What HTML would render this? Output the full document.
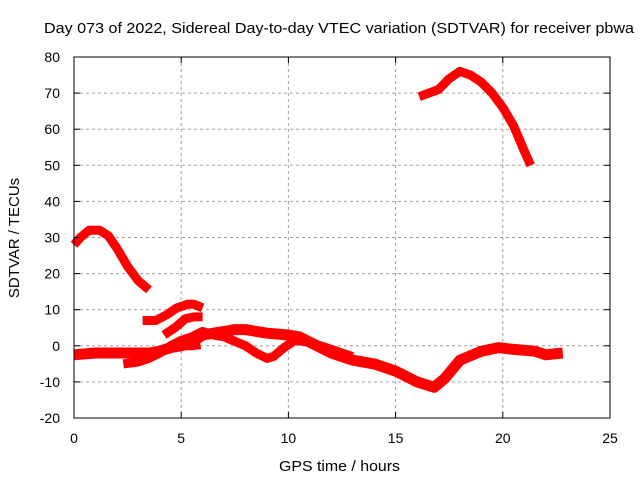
<!DOCTYPE html>
<html><head><meta charset="utf-8"><style>
body{margin:0;background:#fff;}
svg{display:block;font-family:"Liberation Sans",sans-serif;}
</style></head><body>
<svg id="chart" width="640" height="480">
<rect width="640" height="480" fill="#fff"/>
<text x="44" y="33" font-size="15" textLength="590" lengthAdjust="spacingAndGlyphs">Day 073 of 2022, Sidereal Day-to-day VTEC variation (SDTVAR) for receiver pbwa</text>
<text x="279" y="471" font-size="15" textLength="121" lengthAdjust="spacingAndGlyphs">GPS time / hours</text>
<text transform="translate(19,238) rotate(-90)" font-size="15" text-anchor="middle">SDTVAR / TECUs</text>
<g id="grid"></g><g id="marks"></g>
<rect x="74" y="57" width="536" height="361" fill="none" stroke="#000" stroke-width="1"/>
<g id="ticks"></g>
</svg>
<script>
const xTicks=[0,5,10,15,20,25];
const yTicks=[-20,-10,0,10,20,30,40,50,60,70,80];
const s1x=[0,0.3,0.7,1.2,1.6,2,2.5,3,3.5];
const s1y=[28,30,32,32,30.5,27,22,18,15.5];
const s2x=[16.1,17,17.5,18,18.5,19,19.5,20,20.5,21,21.3];
const s2y=[69,71,74,76,75,73,70,66,61,54,50];
const s3x=[3.2,3.8,4.3,4.8,5.3,5.6,6];
const s3y=[7,7,8.5,10.5,11.5,11.5,10.5];
const s4x=[4.2,4.7,5.2,5.6,6];
const s4y=[3,5,7.5,8,8];
const s5x=[0,1,2,3,3.5,4,4.5,5,5.5,6,6.5,7,7.5,8,9,10,10.5,11,12,13,14,15,16,16.8,17.3,18,19,19.8,20.5,21.5,22,22.8];
const s5y=[-2.5,-2,-2,-2,-2,-1.5,-0.5,0,1,3,3.5,4,4.5,4.5,3.5,3,2.5,1,-2,-4,-5,-7,-10,-11.5,-9,-4,-1.5,-0.5,-1,-1.5,-2.5,-2];
const s6x=[2.3,3,3.5,4,4.5,5,5.5,6,6.5,7,8,8.5,9,9.3,9.8,10.3,11,12,13];
const s6y=[-5,-4.5,-3.5,-2,0,1.5,2.5,4,3,2.5,0,-2,-3.5,-3,-0.5,1.5,1,-1,-3];
const s7x=[4.5,5,5.5,5.9];
const s7y=[0,0,0,0.3];
const NS="http://www.w3.org/2000/svg";
const X=v=>74+v*(536/25), Y=v=>418-(v+20)*(361/100);
const grid=document.getElementById('grid'),ticks=document.getElementById('ticks'),marks=document.getElementById('marks');
function mk(tag,at,parent){const e=document.createElementNS(NS,tag);for(const k in at)e.setAttribute(k,at[k]);parent.appendChild(e);return e;}
xTicks.forEach(t=>{const x=X(t);
 if(t>0&&t<25){const g=mk('line',{x1:x,x2:x,y1:57,y2:418,stroke:'#a0a0a0','stroke-dasharray':'3,3'},grid);
 
 }
 mk('line',{x1:x,x2:x,y1:418,y2:412,stroke:'#000'},ticks);
 mk('line',{x1:x,x2:x,y1:57,y2:63,stroke:'#000'},ticks);
 const l=mk('text',{x:x,y:443,'font-size':14,'text-anchor':'middle'},ticks);l.textContent=t;
 
 });
yTicks.forEach(t=>{const y=Y(t);
 if(t>-20&&t<80){const g=mk('line',{x1:74,x2:610,y1:y,y2:y,stroke:'#a0a0a0','stroke-dasharray':'3,3'},grid);
 
 }
 mk('line',{x1:74,x2:80,y1:y,y2:y,stroke:'#000'},ticks);
 mk('line',{x1:610,x2:604,y1:y,y2:y,stroke:'#000'},ticks);
 const l=mk('text',{x:60,y:y+5,'font-size':14,'text-anchor':'end'},ticks);l.textContent=t;
 
 });
[[s1x,s1y],[s2x,s2y],[s3x,s3y],[s4x,s4y],[s5x,s5y],[s6x,s6y],[s7x,s7y]].forEach((s,i)=>{
 const pts=s[0].map((v,j)=>X(v).toFixed(1)+','+Y(s[1][j]).toFixed(1)).join(' ');
 const p=mk('polyline',{points:pts,fill:'none',stroke:'#ff0000','stroke-width':i==4?11:9,'stroke-linejoin':'round','stroke-linecap':'butt'},marks);
 
 });
</script>
</body></html>
